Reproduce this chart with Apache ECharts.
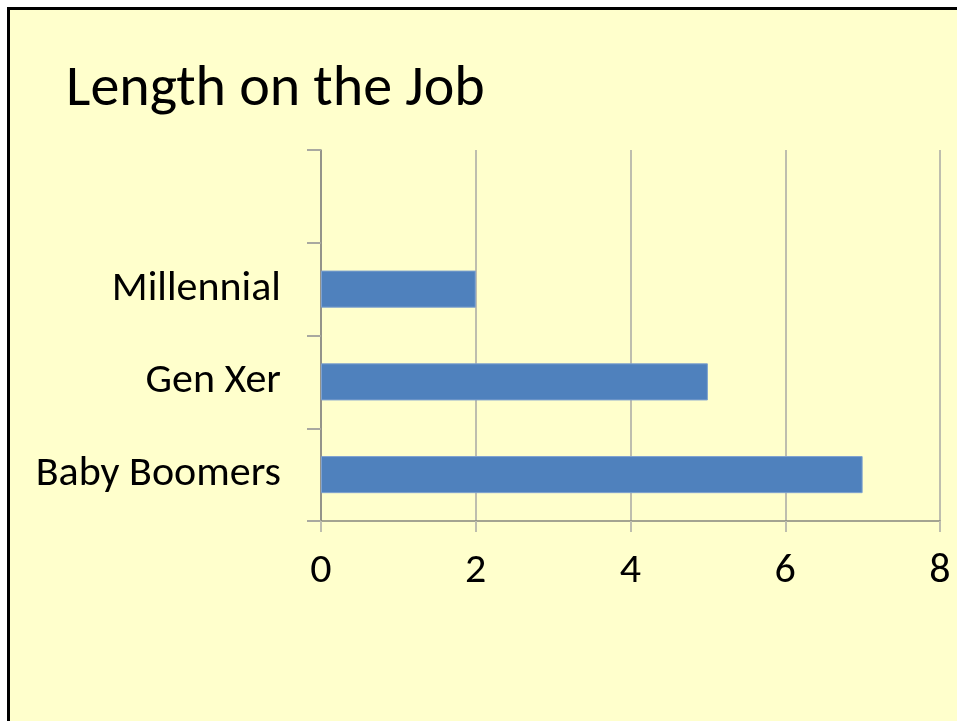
<!DOCTYPE html>
<html>
<head>
<meta charset="utf-8">
<script src="https://cdn.jsdelivr.net/npm/echarts@6/dist/echarts.min.js"></script>
<style>
  html, body { margin: 0; padding: 0; background: #ffffff; overflow: hidden; }
  #slide {
    position: absolute; left: 7px; top: 7px; width: 960px; height: 720px;
    background: #FFFFCC; border-left: 3px solid #000; border-top: 3px solid #000;
  }
  #chart { position: absolute; left: 0; top: 0; width: 957px; height: 721px; }
</style>
</head>
<body>
<div id="slide"></div>
<div id="chart"></div>
<script>
// valores (anos en el puesto)
var categories = ['Baby Boomers', 'Gen Xer', 'Millennial', ''];
var years = [7, 5, 2, null];
var xTicks = [0, 2, 4, 6, 8];

var fontName = "Carlito, Calibri, 'Open Sans', sans-serif";

var chart = echarts.init(document.getElementById('chart'));

chart.setOption({
  backgroundColor: 'transparent',
  animation: false,
  title: {
    text: 'Length on the Job',
    left: 61,
    top: 56,
    textStyle: { fontFamily: fontName, fontSize: 58, fontWeight: 'normal', color: '#000' }
  },
  grid: { left: 321, right: 17, top: 150, bottom: 200 },
  xAxis: {
    type: 'value',
    min: xTicks[0],
    max: xTicks[xTicks.length - 1],
    interval: 2,
    axisLine: { show: true, lineStyle: { color: '#86867E', width: 1.5 } },
    axisTick: { show: true, length: 11, lineStyle: { color: '#BEBEAE', width: 2 } },
    splitLine: { show: true, lineStyle: { color: '#BEBEAE', width: 2 } },
    axisLabel: { margin: 29, fontFamily: fontName, fontSize: 42, color: '#000' }
  },
  yAxis: {
    type: 'category',
    data: categories,
    axisLine: { show: true, lineStyle: { color: '#86867E', width: 1.5 } },
    axisTick: { show: true, length: 14, lineStyle: { color: '#A9A9A0', width: 2 } },
    axisLabel: { margin: 40, fontFamily: fontName, fontSize: 42, color: '#000' }
  },
  series: [
    {
      type: 'bar',
      data: years,
      barWidth: '40%',
      itemStyle: { color: '#4F81BD', borderColor: '#7FA2CF', borderWidth: 1 }
    }
  ]
});

window.addEventListener("resize", () => {
  if (chart) chart.resize();
});
</script>
</body>
</html>
